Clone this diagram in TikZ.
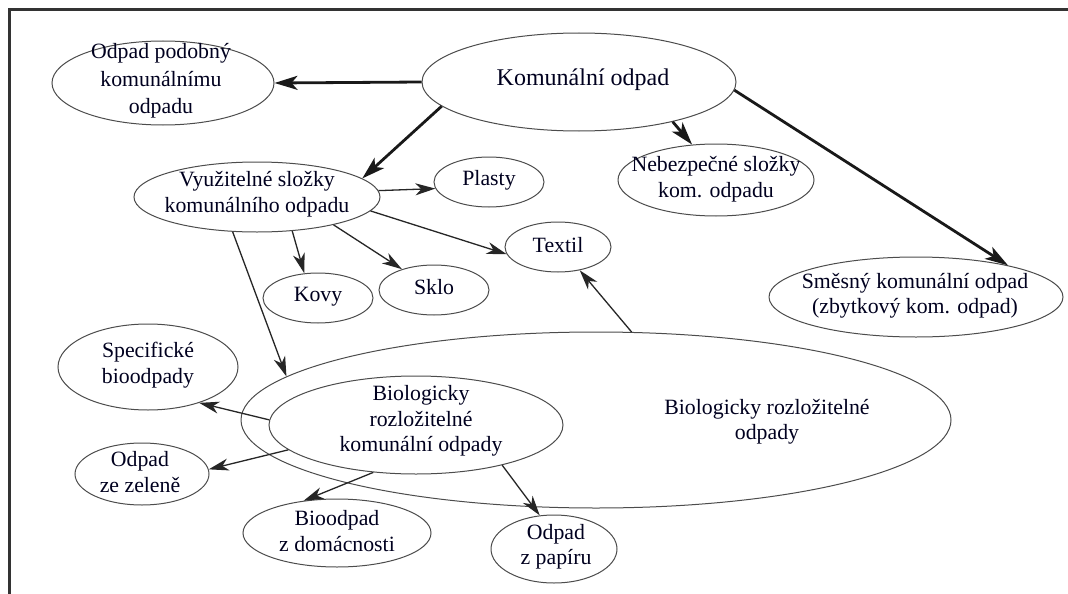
\documentclass[tikz,border=0pt]{standalone}
\usepackage{fontspec}
\setmainfont{Liberation Serif}
\usetikzlibrary{shapes.geometric,arrows.meta}
\begin{document}
\begin{tikzpicture}[x=1pt,y=-1pt,
  ell/.style={draw=black!70, line width=1pt, ellipse, inner sep=0pt},
  txt/.style={font=\fontsize{21.8}{25.5}\selectfont, align=center, text=black!88!blue, inner sep=0pt},
  wide/.style={font=\fontsize{21.8}{27.5}\selectfont},
  bigtxt/.style={font=\fontsize{24}{28}\selectfont, align=center, text=black!88!blue, inner sep=0pt},
  heavy/.style={draw=black!90, line width=2.8pt, -{Stealth[length=23pt,width=14pt,inset=6pt]}},
  light/.style={draw=black!85, line width=1.3pt, -{Stealth[length=20pt,width=12pt,inset=6pt]}},
  frame/.style={draw=black!80, line width=3pt}]
\useasboundingbox (0,0) rectangle (1068,594);
\fill[white] (0,0) rectangle (1068,594);

% outer frame (top and left rules)
\coordinate (fa) at (9.5,594);
\coordinate (fb) at (9.5,9.5);
\coordinate (fc) at (1068,9.5);
\draw[frame] (fa) -- (fb) -- (fc);

% ellipses
\node[ell, minimum width=222pt, minimum height=84pt] (podob) at (163,83) {};
\node[ell, minimum width=314pt, minimum height=98pt] (komun) at (579,82) {};
\node[ell, minimum width=110pt, minimum height=50pt] (plasty) at (489,182) {};
\node[ell, minimum width=196pt, minimum height=72pt] (nebez) at (716,180) {};
\node[ell, minimum width=294pt, minimum height=80pt] (smes) at (916,297) {};
\node[ell, minimum width=246pt, minimum height=70pt] (vyuz) at (257,197) {};
\node[ell, minimum width=110pt, minimum height=50pt] (kovy) at (318,298) {};
\node[ell, minimum width=110pt, minimum height=50pt] (sklo) at (434,290) {};
\node[ell, minimum width=106pt, minimum height=50pt] (textil) at (558,247) {};
\node[ell, minimum width=710pt, minimum height=176pt] (bigbio) at (596,420) {};
\node[ell, minimum width=294pt, minimum height=98pt] (inbio) at (416,425) {};
\node[ell, minimum width=180pt, minimum height=86pt] (spec) at (148,367) {};
\node[ell, minimum width=134pt, minimum height=62pt] (zelen) at (142,474) {};
\node[ell, minimum width=188pt, minimum height=68pt] (domac) at (337,533) {};
\node[ell, minimum width=126pt, minimum height=68pt] (papir) at (554,549) {};

% texts
\node[txt, wide] (podobT) at (161,81) {Odpad podobný\\komunálnímu\\odpadu};
\node[bigtxt] (komunT) at (583,80) {Komunální odpad};
\node[txt] (plastyT) at (489,180) {Plasty};
\node[txt] (nebezT) at (716,179) {Nebezpečné složky\\kom. odpadu};
\node[txt] (smesT) at (915,296) {Směsný komunální odpad\\(zbytkový kom. odpad)};
\node[txt] (vyuzT) at (257,194) {Využitelné složky\\komunálního odpadu};
\node[txt] (kovyT) at (318,297) {Kovy};
\node[txt] (skloT) at (434,287) {Sklo};
\node[txt] (textilT) at (558,245) {Textil};
\node[txt] (bigbioT) at (767,422) {Biologicky rozložitelné\\odpady};
\node[txt] (inbioT) at (421,421) {Biologicky\\rozložitelné\\komunální odpady};
\node[txt] (specT) at (148,365) {Specifické\\bioodpady};
\node[txt] (zelenT) at (140,472) {Odpad\\ze zeleně};
\node[txt] (domacT) at (337,531) {Bioodpad\\z domácnosti};
\node[txt] (papirT) at (556,547) {Odpad\\z papíru};

% connectors
\draw[heavy] (komun.180) -- (podob.0);
\draw[heavy] (komun.190) -- (vyuz.10);
\draw[heavy] (komun.-23) -- (nebez.124);
\draw[heavy] (komun.-3) -- (smes.19.5);
\draw[light] (vyuz.3.7) -- (plasty.187);
\draw[light] (vyuz.-7.7) -- (textil.188);
\draw[light] (vyuz.-20.7) -- (sklo.147);
\draw[light] (vyuz.-44) -- (kovy.119);
\draw[light] (vyuz.235) -- (bigbio.172.6);
\draw[light] (bigbio.68.4) -- (textil.-47);
\draw[light] (inbio.178.8) -- (spec.-35);
\draw[light] (inbio.191.7) -- (zelen.4);
\draw[light] (inbio.228) -- (domac.136);
\draw[light] (inbio.-25) -- (papir.113);
\end{tikzpicture}
\end{document}
